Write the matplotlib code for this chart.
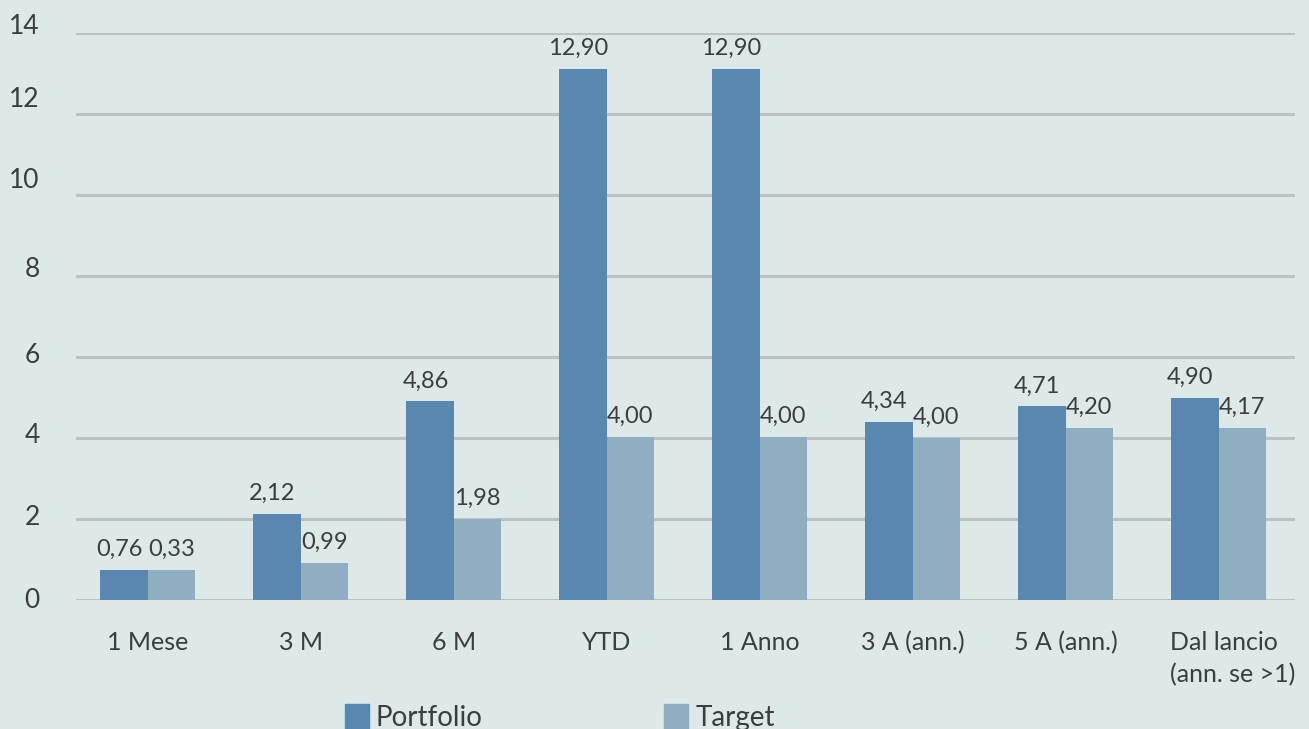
import matplotlib
matplotlib.use("Agg")
import matplotlib.pyplot as plt
import matplotlib.patches as mpatches
import matplotlib.transforms as mtransforms
import numpy as np

categories = ["1 Mese", "3 M", "6 M", "YTD", "1 Anno", "3 A (ann.)", "5 A (ann.)", "Dal lancio\n(ann. se >1)"]
portfolio_bars = [0.74, 2.12, 4.90, 13.11, 13.11, 4.39, 4.78, 4.98]
target_bars = [0.74, 0.91, 2.00, 4.02, 4.02, 4.00, 4.24, 4.24]
portfolio_labels = ["0,76", "2,12", "4,86", "12,90", "12,90", "4,34", "4,71", "4,90"]
target_labels = ["0,33", "0,99", "1,98", "4,00", "4,00", "4,00", "4,20", "4,17"]
series_names = ["Portfolio", "Target"]
yticks = [0, 2, 4, 6, 8, 10, 12, 14]

BG = "#dce9e8"
C_PORT = "#5a87b0"
C_TARG = "#8faec1"
TXT = "#3d3d3d"
GRID = "#bfc0c4"

plt.rcParams['font.family'] = ['Lato', 'DejaVu Sans']

W, H = 1309, 729
DPI = 100
fig = plt.figure(figsize=(W / DPI, H / DPI), dpi=DPI, facecolor=BG)
ax = fig.add_axes([76 / W, 1 - 600 / H, (1295 - 76) / W, (600 - 32.5) / H])
ax.set_facecolor(BG)

x = np.arange(len(categories))
bw = 0.31
ax.bar(x - bw / 2, portfolio_bars, width=bw, color=C_PORT, zorder=3)
ax.bar(x + bw / 2, target_bars, width=bw, color=C_TARG, zorder=3)

for xi, h, lab in zip(x, portfolio_bars, portfolio_labels):
    ax.annotate(lab, (xi - bw / 2 - 0.03, h), xytext=(0, 10), textcoords="offset points",
                ha="center", va="baseline", fontsize=17, color=TXT)
for xi, h, lab in zip(x, target_bars, target_labels):
    ax.annotate(lab, (xi + bw / 2, h), xytext=(0, 10), textcoords="offset points",
                ha="center", va="baseline", fontsize=17, color=TXT)

ax.set_xlim(-0.47, 7.5)
ax.set_ylim(0, 14)
ax.set_yticks(yticks)
ax.set_yticklabels([str(v) for v in yticks])
ax.set_xticks(x)
ax.set_xticklabels(categories, multialignment="left", linespacing=1.5)
ax.tick_params(axis="y", length=0, pad=26, labelsize=19, labelcolor=TXT)
ax.tick_params(axis="x", length=0, pad=22, labelsize=18, labelcolor=TXT)

# small vertical offsets of the y tick labels (pixels, upward) as in the reference
y_label_shift_px = [2, 4, 4.5, 4, 8.5, 16.5, 16.5, 8]
for lbl, dy in zip(ax.get_yticklabels(), y_label_shift_px):
    lbl.set_horizontalalignment("right")
    lbl.set_transform(lbl.get_transform() + mtransforms.Affine2D().translate(0, dy))
# last x label block sits a little right
last = ax.get_xticklabels()[-1]
last.set_transform(last.get_transform() + mtransforms.Affine2D().translate(14, 0))

ax.grid(axis="y", color=GRID, linewidth=2.2, zorder=0)
for s in ax.spines.values():
    s.set_visible(False)

# legend
leg_items = [(345, C_PORT, 375), (664, C_TARG, 696)]
for (sx, col, tx), name in zip(leg_items, series_names):
    fig.patches.append(mpatches.Rectangle((sx / W, 1 - 729 / H), 24 / W, 25 / H,
                                          transform=fig.transFigure, color=col))
    fig.text(tx / W, 1 - 726 / H, name, fontsize=20, color=TXT, ha="left", va="baseline")

fig.savefig("out.png", dpi=DPI, facecolor=BG)
